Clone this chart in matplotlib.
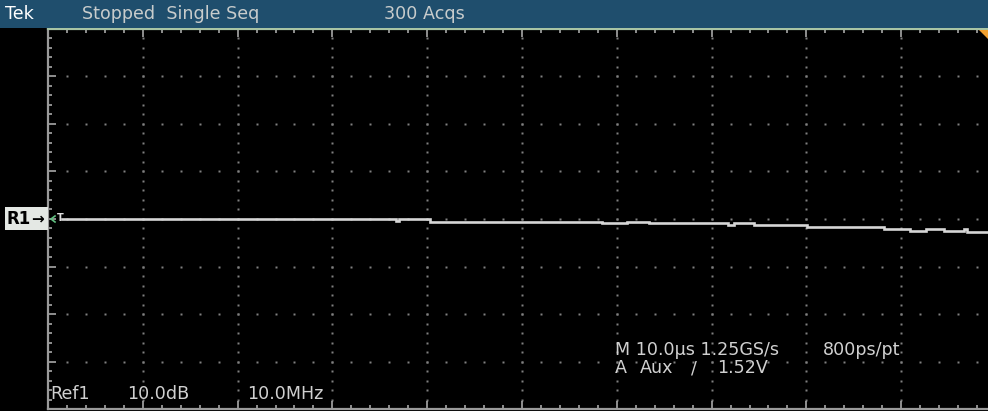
import matplotlib
matplotlib.use("Agg")
import matplotlib.pyplot as plt
from matplotlib.patches import Rectangle, Polygon
from matplotlib.lines import Line2D
import numpy as np

W, H = 988, 411

# ---- data (time in µs across 10 div of 10 µs, level in dB at 10 dB/div) ----
trace_t = [1.5, 36.7, 37.0, 40.3, 58.4, 61.1, 63.4, 71.7, 72.4, 74.5, 80.1,
           88.2, 90.9, 92.6, 94.5, 96.6, 96.9, 100.0]
trace_db = [0.0, -0.35, 0.0, -0.57, -0.91, -0.57, -0.91, -1.26, -0.91, -1.26,
            -1.68, -2.17, -2.53, -2.17, -2.53, -2.17, -2.74, -2.74]

status_texts = ["Tek", "Stopped  Single Seq", "300 Acqs"]
bottom_left = ["Ref1", "10.0dB", "10.0MHz"]
readout_1 = ["M 10.0µs 1.25GS/s", "800ps/pt"]
readout_2 = ["A", "Aux", "/", "1.52V"]

x_min, x_max = 0.0, 100.0
y_min, y_max = -40.0, 40.0

fig = plt.figure(figsize=(W / 100, H / 100), dpi=100, facecolor="black")


def fx(x):
    return x / W


def fy(y):
    return 1 - y / H


# top status bar
fig.patches.append(Rectangle((0, fy(28)), 1, 28 / H, transform=fig.transFigure,
                             facecolor="#1F4E6D", edgecolor="none", zorder=0))

ax = fig.add_axes([48 / W, (H - 409) / H, 948 / W, 380 / H])
ax.set_facecolor("black")
ax.set_xlim(x_min, x_max)
ax.set_ylim(y_min, y_max)

# grid dots
dot_c = "#808080"
for gx in np.arange(10, 100, 10):
    ys = np.arange(-38, 40, 2)
    ax.plot(np.full_like(ys, gx, dtype=float), ys, ls="none", marker="s",
            ms=1.5, mec="none", mfc=dot_c, zorder=1)
for gy in np.arange(-30, 40, 10):
    xs = np.arange(2, 100, 2)
    ax.plot(xs, np.full_like(xs, gy, dtype=float), ls="none", marker="s",
            ms=1.5, mec="none", mfc=dot_c, zorder=1)

# trace
ax.plot(trace_t, trace_db, drawstyle="steps-post", color="#D6D6D6", lw=1.9,
        zorder=3, solid_joinstyle="miter")

# spines / ticks
for s in ["top", "bottom", "left", "right"]:
    ax.spines[s].set_linewidth(1.6)
ax.spines["top"].set_color("#A8C4A4")
ax.spines["bottom"].set_color("#9A9A9A")
ax.spines["left"].set_color("#9A9A9A")
ax.spines["right"].set_color("#9A9A9A")

ax.set_xticks(np.arange(0, 101, 10))
ax.set_xticks(np.arange(0, 101, 2), minor=True)
ax.set_yticks(np.arange(-40, 41, 10))
ax.set_yticks(np.arange(-40, 41, 2), minor=True)
ax.tick_params(which="both", direction="in", top=True, bottom=True, left=True,
               right=False, labelbottom=False, labelleft=False, color="#A8A8A8",
               width=1.2)
ax.tick_params(which="major", length=6)
ax.tick_params(which="minor", length=3)

fnt = dict(family="DejaVu Sans", fontsize=12.6)
txt_c = "#D0D0D0"

# status bar texts
fig.text(fx(5), fy(14), status_texts[0], color="white", va="center", ha="left",
         **fnt)
fig.text(fx(82), fy(14), status_texts[1], color="#C8CCCC", va="center",
         ha="left", **fnt)
fig.text(fx(384), fy(14), status_texts[2], color="#C8CCCC", va="center",
         ha="left", **fnt)

# bottom left readouts
for x, s in zip([50, 127, 247], bottom_left):
    fig.text(fx(x), fy(394), s, color=txt_c, va="center", ha="left", **fnt)

# timebase readouts
fig.text(fx(615), fy(350), readout_1[0], color=txt_c, va="center", ha="left",
         **fnt)
fig.text(fx(823), fy(350), readout_1[1], color=txt_c, va="center", ha="left",
         **fnt)
for x, s in zip([615, 640, 691, 717], readout_2):
    fig.text(fx(x), fy(368), s, color=txt_c, va="center", ha="left", **fnt)

# R1 reference marker
fig.patches.append(Rectangle((fx(5), fy(230)), 43 / W, 23 / H,
                             transform=fig.transFigure, facecolor="#E4E8E4",
                             edgecolor="none", zorder=5))
fig.text(fx(7), fy(219), "R1", color="black", va="center", ha="left",
         family="DejaVu Sans", fontsize=12, fontweight="bold", zorder=6)
fig.text(fx(31), fy(219), "\u2192", color="black", va="center", ha="left",
         family="DejaVu Sans", fontsize=11, fontweight="bold", zorder=6)
# small green chevron and trigger "T"
fig.lines.append(Line2D([fx(55), fx(51), fx(55)], [fy(216), fy(219), fy(222)],
                        transform=fig.transFigure, color="#60C080", lw=1.2,
                        zorder=6))
fig.text(fx(57), fy(218), "T", color="#E0E0E0", va="center", ha="left",
         family="DejaVu Sans", fontsize=7, fontweight="bold", zorder=6)

# orange trigger-position marker at the top right
fig.patches.append(Polygon([[fx(979), fy(30)], [fx(988), fy(30)],
                            [fx(988), fy(39)]], closed=True,
                           transform=fig.transFigure, facecolor="#F0A030",
                           edgecolor="none", zorder=6))

fig.savefig("out.png", dpi=100, facecolor="black")
